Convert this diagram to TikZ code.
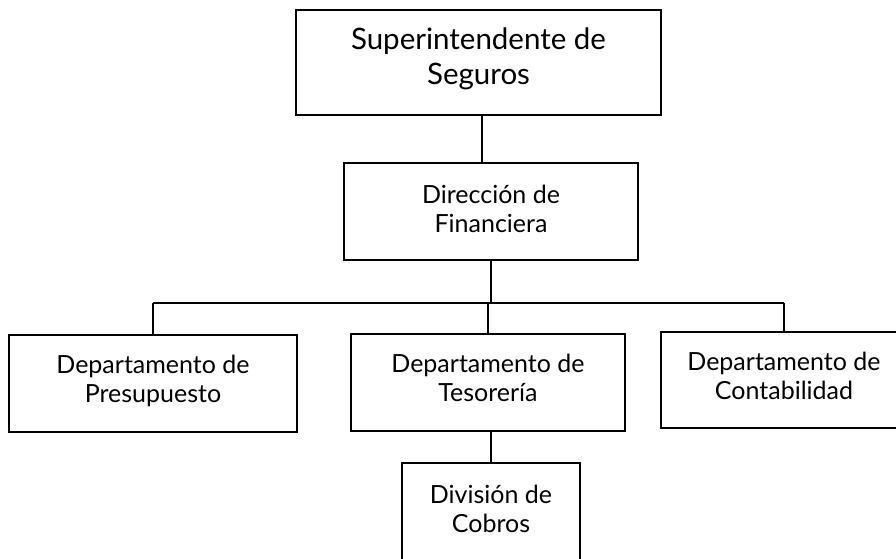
\documentclass[tikz,border=0pt]{standalone}
\usepackage{fontspec}
\setmainfont{Lato}
\usetikzlibrary{positioning}

\tikzset{
  caja/.style={draw, line width=1.3pt, align=center, inner sep=0pt,
    font=\fontsize{25}{29}\selectfont, text depth=10pt},
  linea/.style={line width=1.3pt}
}

\begin{document}
\begin{tikzpicture}[x=1pt,y=-1pt]
  \useasboundingbox (0,0) rectangle (896,558);

  \node[caja, minimum width=365pt, minimum height=105pt,
    font=\fontsize{29.5}{35}\selectfont, text depth=13pt] (sup) at (478.5,62.5) {Superintendente de\\Seguros};
  \node[caja, minimum width=294pt, minimum height=97pt, text depth=6pt] (dir) at (491,211.5) {Direcci\'on de\\Financiera};

  \node[caja, minimum width=288pt, minimum height=97pt] (pres) at (153,383.5) {Departamento de\\Presupuesto};
  \node[caja, minimum width=274pt, minimum height=97pt] (teso) at (488,382.5) {Departamento de\\Tesorer\'ia};
  \node[caja, minimum width=246pt, minimum height=96pt, text depth=8pt] (cont) at (784,380) {Departamento de\\Contabilidad};

  \node[caja, minimum width=178pt, minimum height=99pt, text depth=8pt] (cob) at (491,512.5) {Divisi\'on de\\Cobros};

  \coordinate (bus) at (0,303);

  \draw[linea] ([xshift=3.5pt]sup.south) -- ([xshift=3.5pt]sup.south |- dir.north);
  \draw[linea] (dir.south) -- (dir.south |- bus);
  \draw[linea] (pres.north |- bus) -- (cont.north |- bus);
  \draw[linea] (pres.north) -- (pres.north |- bus);
  \draw[linea] (teso.north) -- (teso.north |- bus);
  \draw[linea] (cont.north) -- (cont.north |- bus);
  \draw[linea] (cob.north |- teso.south) -- (cob.north);

\end{tikzpicture}
\end{document}
